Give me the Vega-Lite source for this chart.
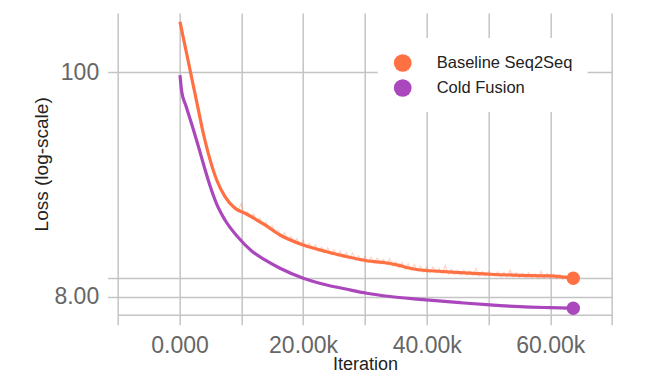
{
  "$schema": "https://vega.github.io/schema/vega-lite/v6.json",
  "autosize": "none",
  "width": 494.4,
  "height": 301.7,
  "padding": {"left": 117.7, "top": 13, "right": 41.9, "bottom": 74.3},
  "background": "white",
  "config": {
    "view": {"stroke": null},
    "font": "Liberation Sans",
    "axis": {
      "gridColor": "#c4c4c4",
      "gridWidth": 1.5,
      "gridOpacity": 1,
      "tickColor": "#c4c4c4",
      "tickWidth": 1.5,
      "tickSize": 10,
      "domainColor": "#c4c4c4",
      "domainWidth": 1.5,
      "labelFont": "Liberation Sans",
      "labelFontSize": 23,
      "labelColor": "#666666",
      "titleFont": "Liberation Sans",
      "titleColor": "#222222",
      "titleFontWeight": "normal"
    }
  },
  "data": {
    "values": [
      {"series": "Baseline Seq2Seq", "kind": "smooth", "it": 80, "loss": 176.6},
      {"series": "Baseline Seq2Seq", "kind": "smooth", "it": 1050, "loss": 127.9},
      {"series": "Baseline Seq2Seq", "kind": "smooth", "it": 2020, "loss": 92.5},
      {"series": "Baseline Seq2Seq", "kind": "smooth", "it": 2990, "loss": 67.0},
      {"series": "Baseline Seq2Seq", "kind": "smooth", "it": 3850, "loss": 50.4},
      {"series": "Baseline Seq2Seq", "kind": "smooth", "it": 4660, "loss": 40.2},
      {"series": "Baseline Seq2Seq", "kind": "smooth", "it": 6020, "loss": 29.8},
      {"series": "Baseline Seq2Seq", "kind": "smooth", "it": 7360, "loss": 24.7},
      {"series": "Baseline Seq2Seq", "kind": "smooth", "it": 8980, "loss": 21.7},
      {"series": "Baseline Seq2Seq", "kind": "smooth", "it": 10600, "loss": 20.5},
      {"series": "Baseline Seq2Seq", "kind": "smooth", "it": 13830, "loss": 17.97},
      {"series": "Baseline Seq2Seq", "kind": "smooth", "it": 16260, "loss": 16.05},
      {"series": "Baseline Seq2Seq", "kind": "smooth", "it": 20030, "loss": 14.35},
      {"series": "Baseline Seq2Seq", "kind": "smooth", "it": 23820, "loss": 13.3},
      {"series": "Baseline Seq2Seq", "kind": "smooth", "it": 27060, "loss": 12.58},
      {"series": "Baseline Seq2Seq", "kind": "smooth", "it": 30290, "loss": 12.02},
      {"series": "Baseline Seq2Seq", "kind": "smooth", "it": 33530, "loss": 11.72},
      {"series": "Baseline Seq2Seq", "kind": "smooth", "it": 35500, "loss": 11.4},
      {"series": "Baseline Seq2Seq", "kind": "smooth", "it": 37300, "loss": 11.04},
      {"series": "Baseline Seq2Seq", "kind": "smooth", "it": 38920, "loss": 10.83},
      {"series": "Baseline Seq2Seq", "kind": "smooth", "it": 40530, "loss": 10.74},
      {"series": "Baseline Seq2Seq", "kind": "smooth", "it": 45390, "loss": 10.51},
      {"series": "Baseline Seq2Seq", "kind": "smooth", "it": 50240, "loss": 10.32},
      {"series": "Baseline Seq2Seq", "kind": "smooth", "it": 55100, "loss": 10.2},
      {"series": "Baseline Seq2Seq", "kind": "smooth", "it": 59950, "loss": 10.13},
      {"series": "Baseline Seq2Seq", "kind": "smooth", "it": 63720, "loss": 9.87},
      {"series": "Cold Fusion", "kind": "smooth", "it": 80, "loss": 97.0},
      {"series": "Cold Fusion", "kind": "smooth", "it": 360, "loss": 80.4},
      {"series": "Cold Fusion", "kind": "smooth", "it": 1050, "loss": 68.5},
      {"series": "Cold Fusion", "kind": "smooth", "it": 2020, "loss": 55.3},
      {"series": "Cold Fusion", "kind": "smooth", "it": 2990, "loss": 44.2},
      {"series": "Cold Fusion", "kind": "smooth", "it": 3960, "loss": 34.9},
      {"series": "Cold Fusion", "kind": "smooth", "it": 4940, "loss": 27.9},
      {"series": "Cold Fusion", "kind": "smooth", "it": 6020, "loss": 22.7},
      {"series": "Cold Fusion", "kind": "smooth", "it": 7360, "loss": 19.0},
      {"series": "Cold Fusion", "kind": "smooth", "it": 9510, "loss": 15.6},
      {"series": "Cold Fusion", "kind": "smooth", "it": 11680, "loss": 13.4},
      {"series": "Cold Fusion", "kind": "smooth", "it": 13830, "loss": 12.12},
      {"series": "Cold Fusion", "kind": "smooth", "it": 16260, "loss": 11.04},
      {"series": "Cold Fusion", "kind": "smooth", "it": 20030, "loss": 9.87},
      {"series": "Cold Fusion", "kind": "smooth", "it": 23820, "loss": 9.15},
      {"series": "Cold Fusion", "kind": "smooth", "it": 27060, "loss": 8.72},
      {"series": "Cold Fusion", "kind": "smooth", "it": 30290, "loss": 8.34},
      {"series": "Cold Fusion", "kind": "smooth", "it": 34060, "loss": 8.04},
      {"series": "Cold Fusion", "kind": "smooth", "it": 38920, "loss": 7.79},
      {"series": "Cold Fusion", "kind": "smooth", "it": 45390, "loss": 7.5},
      {"series": "Cold Fusion", "kind": "smooth", "it": 50240, "loss": 7.31},
      {"series": "Cold Fusion", "kind": "smooth", "it": 55100, "loss": 7.17},
      {"series": "Cold Fusion", "kind": "smooth", "it": 59950, "loss": 7.09},
      {"series": "Cold Fusion", "kind": "smooth", "it": 63720, "loss": 7.04},
      {"series": "Baseline Seq2Seq", "kind": "raw", "it": 9000, "loss": 22.3},
      {"series": "Baseline Seq2Seq", "kind": "raw", "it": 9500, "loss": 21.2},
      {"series": "Baseline Seq2Seq", "kind": "raw", "it": 10000, "loss": 22.9},
      {"series": "Baseline Seq2Seq", "kind": "raw", "it": 10500, "loss": 20.3},
      {"series": "Baseline Seq2Seq", "kind": "raw", "it": 11000, "loss": 20.8},
      {"series": "Baseline Seq2Seq", "kind": "raw", "it": 11500, "loss": 19.6},
      {"series": "Baseline Seq2Seq", "kind": "raw", "it": 12000, "loss": 20.3},
      {"series": "Baseline Seq2Seq", "kind": "raw", "it": 12500, "loss": 18.9},
      {"series": "Baseline Seq2Seq", "kind": "raw", "it": 13000, "loss": 19.4},
      {"series": "Baseline Seq2Seq", "kind": "raw", "it": 13500, "loss": 17.9},
      {"series": "Baseline Seq2Seq", "kind": "raw", "it": 14000, "loss": 18.5},
      {"series": "Baseline Seq2Seq", "kind": "raw", "it": 14500, "loss": 17.2},
      {"series": "Baseline Seq2Seq", "kind": "raw", "it": 15000, "loss": 17.8},
      {"series": "Baseline Seq2Seq", "kind": "raw", "it": 15500, "loss": 16.4},
      {"series": "Baseline Seq2Seq", "kind": "raw", "it": 16000, "loss": 16.9},
      {"series": "Baseline Seq2Seq", "kind": "raw", "it": 16500, "loss": 15.7},
      {"series": "Baseline Seq2Seq", "kind": "raw", "it": 17000, "loss": 16.5},
      {"series": "Baseline Seq2Seq", "kind": "raw", "it": 17500, "loss": 15.2},
      {"series": "Baseline Seq2Seq", "kind": "raw", "it": 18000, "loss": 15.8},
      {"series": "Baseline Seq2Seq", "kind": "raw", "it": 18500, "loss": 14.7},
      {"series": "Baseline Seq2Seq", "kind": "raw", "it": 19000, "loss": 15.4},
      {"series": "Baseline Seq2Seq", "kind": "raw", "it": 19500, "loss": 14.3},
      {"series": "Baseline Seq2Seq", "kind": "raw", "it": 20000, "loss": 15.1},
      {"series": "Baseline Seq2Seq", "kind": "raw", "it": 20500, "loss": 14.0},
      {"series": "Baseline Seq2Seq", "kind": "raw", "it": 21000, "loss": 14.6},
      {"series": "Baseline Seq2Seq", "kind": "raw", "it": 21500, "loss": 13.7},
      {"series": "Baseline Seq2Seq", "kind": "raw", "it": 22000, "loss": 14.4},
      {"series": "Baseline Seq2Seq", "kind": "raw", "it": 22500, "loss": 13.4},
      {"series": "Baseline Seq2Seq", "kind": "raw", "it": 23000, "loss": 14.0},
      {"series": "Baseline Seq2Seq", "kind": "raw", "it": 23500, "loss": 13.2},
      {"series": "Baseline Seq2Seq", "kind": "raw", "it": 24000, "loss": 13.9},
      {"series": "Baseline Seq2Seq", "kind": "raw", "it": 24500, "loss": 12.9},
      {"series": "Baseline Seq2Seq", "kind": "raw", "it": 25000, "loss": 13.6},
      {"series": "Baseline Seq2Seq", "kind": "raw", "it": 25500, "loss": 12.7},
      {"series": "Baseline Seq2Seq", "kind": "raw", "it": 26000, "loss": 13.4},
      {"series": "Baseline Seq2Seq", "kind": "raw", "it": 26500, "loss": 12.5},
      {"series": "Baseline Seq2Seq", "kind": "raw", "it": 27000, "loss": 13.2},
      {"series": "Baseline Seq2Seq", "kind": "raw", "it": 27500, "loss": 12.3},
      {"series": "Baseline Seq2Seq", "kind": "raw", "it": 28000, "loss": 13.1},
      {"series": "Baseline Seq2Seq", "kind": "raw", "it": 28500, "loss": 12.1},
      {"series": "Baseline Seq2Seq", "kind": "raw", "it": 29000, "loss": 12.7},
      {"series": "Baseline Seq2Seq", "kind": "raw", "it": 29500, "loss": 11.9},
      {"series": "Baseline Seq2Seq", "kind": "raw", "it": 30000, "loss": 12.6},
      {"series": "Baseline Seq2Seq", "kind": "raw", "it": 30500, "loss": 11.8},
      {"series": "Baseline Seq2Seq", "kind": "raw", "it": 31000, "loss": 12.5},
      {"series": "Baseline Seq2Seq", "kind": "raw", "it": 31500, "loss": 11.7},
      {"series": "Baseline Seq2Seq", "kind": "raw", "it": 32000, "loss": 12.4},
      {"series": "Baseline Seq2Seq", "kind": "raw", "it": 32500, "loss": 11.6},
      {"series": "Baseline Seq2Seq", "kind": "raw", "it": 33000, "loss": 12.2},
      {"series": "Baseline Seq2Seq", "kind": "raw", "it": 33500, "loss": 11.5},
      {"series": "Baseline Seq2Seq", "kind": "raw", "it": 34000, "loss": 12.3},
      {"series": "Baseline Seq2Seq", "kind": "raw", "it": 34500, "loss": 11.3},
      {"series": "Baseline Seq2Seq", "kind": "raw", "it": 35000, "loss": 11.9},
      {"series": "Baseline Seq2Seq", "kind": "raw", "it": 35500, "loss": 11.1},
      {"series": "Baseline Seq2Seq", "kind": "raw", "it": 36000, "loss": 11.8},
      {"series": "Baseline Seq2Seq", "kind": "raw", "it": 36500, "loss": 10.9},
      {"series": "Baseline Seq2Seq", "kind": "raw", "it": 37000, "loss": 11.6},
      {"series": "Baseline Seq2Seq", "kind": "raw", "it": 37500, "loss": 10.8},
      {"series": "Baseline Seq2Seq", "kind": "raw", "it": 38000, "loss": 11.5},
      {"series": "Baseline Seq2Seq", "kind": "raw", "it": 38500, "loss": 10.7},
      {"series": "Baseline Seq2Seq", "kind": "raw", "it": 39000, "loss": 11.3},
      {"series": "Baseline Seq2Seq", "kind": "raw", "it": 39500, "loss": 10.6},
      {"series": "Baseline Seq2Seq", "kind": "raw", "it": 40000, "loss": 11.2},
      {"series": "Baseline Seq2Seq", "kind": "raw", "it": 40500, "loss": 10.5},
      {"series": "Baseline Seq2Seq", "kind": "raw", "it": 41000, "loss": 11.2},
      {"series": "Baseline Seq2Seq", "kind": "raw", "it": 41500, "loss": 10.5},
      {"series": "Baseline Seq2Seq", "kind": "raw", "it": 42000, "loss": 11.0},
      {"series": "Baseline Seq2Seq", "kind": "raw", "it": 42500, "loss": 10.4},
      {"series": "Baseline Seq2Seq", "kind": "raw", "it": 43000, "loss": 11.4},
      {"series": "Baseline Seq2Seq", "kind": "raw", "it": 43500, "loss": 10.3},
      {"series": "Baseline Seq2Seq", "kind": "raw", "it": 44000, "loss": 10.9},
      {"series": "Baseline Seq2Seq", "kind": "raw", "it": 44500, "loss": 10.3},
      {"series": "Baseline Seq2Seq", "kind": "raw", "it": 45000, "loss": 10.8},
      {"series": "Baseline Seq2Seq", "kind": "raw", "it": 45500, "loss": 10.25},
      {"series": "Baseline Seq2Seq", "kind": "raw", "it": 46000, "loss": 10.8},
      {"series": "Baseline Seq2Seq", "kind": "raw", "it": 46500, "loss": 10.2},
      {"series": "Baseline Seq2Seq", "kind": "raw", "it": 47000, "loss": 10.7},
      {"series": "Baseline Seq2Seq", "kind": "raw", "it": 47500, "loss": 10.2},
      {"series": "Baseline Seq2Seq", "kind": "raw", "it": 48000, "loss": 11.0},
      {"series": "Baseline Seq2Seq", "kind": "raw", "it": 48500, "loss": 10.15},
      {"series": "Baseline Seq2Seq", "kind": "raw", "it": 49000, "loss": 10.65},
      {"series": "Baseline Seq2Seq", "kind": "raw", "it": 49500, "loss": 10.1},
      {"series": "Baseline Seq2Seq", "kind": "raw", "it": 50000, "loss": 10.6},
      {"series": "Baseline Seq2Seq", "kind": "raw", "it": 51000, "loss": 10.1},
      {"series": "Baseline Seq2Seq", "kind": "raw", "it": 51500, "loss": 10.6},
      {"series": "Baseline Seq2Seq", "kind": "raw", "it": 52000, "loss": 10.05},
      {"series": "Baseline Seq2Seq", "kind": "raw", "it": 52500, "loss": 10.55},
      {"series": "Baseline Seq2Seq", "kind": "raw", "it": 53000, "loss": 10.0},
      {"series": "Baseline Seq2Seq", "kind": "raw", "it": 53500, "loss": 10.8},
      {"series": "Baseline Seq2Seq", "kind": "raw", "it": 54000, "loss": 10.0},
      {"series": "Baseline Seq2Seq", "kind": "raw", "it": 54500, "loss": 10.5},
      {"series": "Baseline Seq2Seq", "kind": "raw", "it": 55000, "loss": 9.95},
      {"series": "Baseline Seq2Seq", "kind": "raw", "it": 55500, "loss": 10.45},
      {"series": "Baseline Seq2Seq", "kind": "raw", "it": 56000, "loss": 9.95},
      {"series": "Baseline Seq2Seq", "kind": "raw", "it": 56500, "loss": 10.5},
      {"series": "Baseline Seq2Seq", "kind": "raw", "it": 57000, "loss": 9.9},
      {"series": "Baseline Seq2Seq", "kind": "raw", "it": 57500, "loss": 10.4},
      {"series": "Baseline Seq2Seq", "kind": "raw", "it": 58000, "loss": 9.85},
      {"series": "Baseline Seq2Seq", "kind": "raw", "it": 58500, "loss": 10.7},
      {"series": "Baseline Seq2Seq", "kind": "raw", "it": 59000, "loss": 9.9},
      {"series": "Baseline Seq2Seq", "kind": "raw", "it": 59500, "loss": 10.4},
      {"series": "Baseline Seq2Seq", "kind": "raw", "it": 60000, "loss": 9.85},
      {"series": "Baseline Seq2Seq", "kind": "raw", "it": 60500, "loss": 10.35},
      {"series": "Baseline Seq2Seq", "kind": "raw", "it": 61000, "loss": 9.8},
      {"series": "Baseline Seq2Seq", "kind": "raw", "it": 61500, "loss": 10.3},
      {"series": "Baseline Seq2Seq", "kind": "raw", "it": 62000, "loss": 9.75},
      {"series": "Baseline Seq2Seq", "kind": "raw", "it": 62500, "loss": 10.2},
      {"series": "Baseline Seq2Seq", "kind": "raw", "it": 63000, "loss": 9.75},
      {"series": "Baseline Seq2Seq", "kind": "raw", "it": 63720, "loss": 9.87}
    ]
  },
  "encoding": {
    "x": {
      "field": "it",
      "type": "quantitative",
      "scale": {"domain": [-10000, 70000], "nice": false, "zero": false},
      "axis": {
        "title": "Iteration",
        "titleFontSize": 18,
        "titlePadding": -2,
        "values": [-10000, 0, 10000, 20000, 30000, 40000, 50000, 60000, 70000],
        "labelExpr": "datum.value == 0 ? '0.000' : (datum.value > 0 && datum.value % 20000 == 0 ? format(datum.value / 1000, '.2f') + 'k' : '')",
        "labelPadding": 10,
        "grid": true,
        "domain": true
      }
    },
    "y": {
      "field": "loss",
      "type": "quantitative",
      "scale": {"type": "log", "domain": [6.55, 194.9], "nice": false, "zero": false},
      "axis": {
        "title": "Loss (log-scale)",
        "titleFontSize": 19,
        "titlePadding": 2,
        "values": [8, 9.85, 100],
        "labelExpr": "datum.value == 100 ? '100' : (datum.value == 8 ? '8.00' : '')",
        "labelPadding": 9,
        "grid": true,
        "domain": false
      }
    }
  },
  "layer": [
    {
      "transform": [{"filter": "datum.kind == 'raw'"}],
      "mark": {"type": "line", "color": "#FF7043", "opacity": 0.3, "strokeWidth": 1.2}
    },
    {
      "transform": [{"filter": "datum.kind == 'smooth' && datum.series == 'Baseline Seq2Seq'"}],
      "mark": {"type": "line", "color": "#FF7043", "strokeWidth": 3.2, "interpolate": "monotone"}
    },
    {
      "transform": [{"filter": "datum.kind == 'smooth' && datum.series == 'Cold Fusion'"}],
      "mark": {"type": "line", "color": "#AB47BC", "strokeWidth": 3.2, "interpolate": "monotone"}
    },
    {
      "transform": [{"filter": "datum.kind == 'smooth' && datum.it >= 63720"}],
      "mark": {"type": "circle", "size": 180, "opacity": 1},
      "encoding": {
        "color": {
          "field": "series",
          "type": "nominal",
          "scale": {"domain": ["Baseline Seq2Seq", "Cold Fusion"], "range": ["#FF7043", "#AB47BC"]},
          "legend": {
            "title": null,
            "orient": "none",
            "legendX": 260,
            "legendY": 25,
            "padding": 15,
            "fillColor": "white",
            "symbolType": "circle",
            "symbolSize": 314,
            "symbolOpacity": 1,
            "labelFont": "Liberation Sans",
            "labelFontSize": 16.5,
            "labelColor": "#222222",
            "labelOffset": 24,
            "rowPadding": 6
          }
        }
      }
    }
  ]
}
